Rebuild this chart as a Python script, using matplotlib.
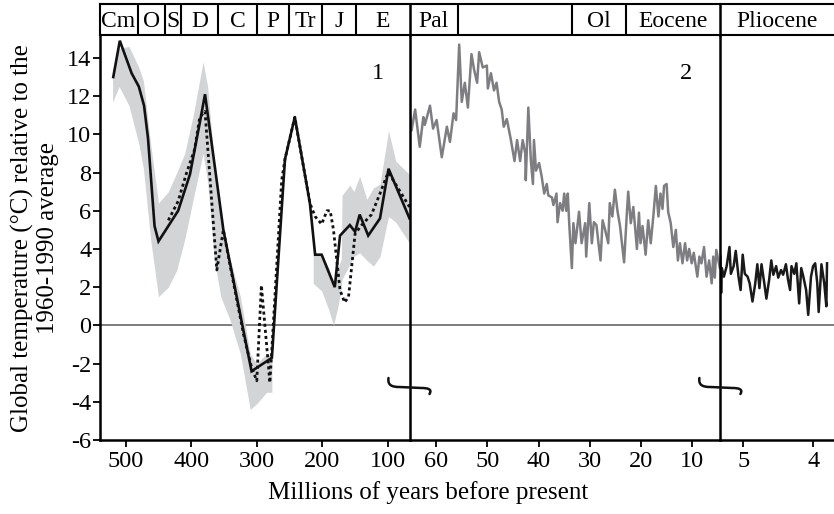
import matplotlib
matplotlib.use('Agg')
import matplotlib.pyplot as plt
from matplotlib.path import Path
from matplotlib.patches import PathPatch

plt.rcParams['font.family'] = ['Liberation Serif', 'DejaVu Serif']
plt.rcParams['axes.unicode_minus'] = False

# ---------------- data ----------------
# Panel 1 (Phanerozoic, Myr)
p1_solid_age = [519, 509, 491, 480, 472, 466, 461, 456, 450, 420, 402, 387, 379, 351,
                308, 277, 257, 242, 219, 211, 201, 181, 173, 158, 150, 143, 130,
                112, 99, 67]
p1_solid_temp = [13.0, 14.9, 13.2, 12.5, 11.5, 9.8, 7.5, 5.2, 4.4, 6.0, 7.9, 10.6, 12.1,
                 5.0, -2.4, -1.7, 8.7, 10.9, 6.4, 3.7, 3.7, 2.0, 4.7, 5.25, 4.9,
                 5.8, 4.7, 5.6, 8.2, 5.6]

p1_dot_age = [435, 420, 407, 395, 387, 379, 361, 351, 340, 320, 308, 300, 293, 280,
              262, 257, 242, 219, 211, 201, 193, 188, 183, 173, 166, 160, 150, 140,
              125, 112, 102, 99, 67]
p1_dot_temp = [5.5, 6.5, 8.0, 9.2, 10.9, 11.2, 2.9, 5.0, 3.0, -0.5, -2.2, -2.9, 2.1,
               -3.0, 7.6, 8.7, 10.9, 6.4, 5.7, 5.3, 6.0, 6.0, 5.0, 1.85, 1.2, 1.5,
               4.8, 5.25, 5.8, 6.9, 7.8, 8.0, 6.2]

band1_age = [520, 510, 495, 480, 473, 462, 450, 435, 422, 410, 397, 382, 375, 365,
             355, 341, 325, 310, 300, 285, 277]
band1_low = [11.7, 12.5, 11.5, 9.5, 8.2, 4.5, 1.5, 2.0, 2.9, 4.5, 6.6, 9.0, 7.5, 3.5,
             1.5, 0.3, -1.5, -4.4, -4.1, -3.5, -3.5]
band1_high = [13.3, 14.5, 14.6, 13.5, 12.8, 9.5, 6.4, 7.0, 8.0, 9.0, 11.0, 13.8, 12.5,
              8.5, 5.5, 3.5, 1.5, -1.5, -2.0, -1.5, -1.6]

band2_age = [214, 201, 190, 183, 176, 171, 170, 158, 152, 143, 132, 122, 112, 99, 88, 67]
band2_low = [2.2, 1.8, 0.8, 0.0, 1.0, 2.0, 2.4, 3.2, 3.6, 3.8, 3.4, 3.1, 3.6, 5.7, 5.4, 4.3]
band2_high = [3.8, 3.7, 3.0, 2.2, 3.0, 3.5, 6.8, 7.35, 7.0, 7.8, 6.6, 7.2, 7.4, 10.2, 8.6, 7.9]

# Panel 2 (Cenozoic, Myr)
p2_age = [65.2, 64.8, 64.1, 63.2, 62.5, 62.2, 61.2, 60.6, 59.9, 58.9, 57.9, 57.3, 56.6,
          56.1, 55.5, 55.0, 54.4, 53.8, 53.1, 52.6, 52.0, 51.6, 50.9, 50.1, 49.9, 49.3,
          48.7, 48.2, 47.7, 47.2, 46.8, 46.2, 45.4, 44.7, 44.2, 43.6, 43.1, 42.6, 42.5,
          42.0, 41.5, 41.1, 40.9, 40.5, 39.9, 39.4, 38.9, 38.4, 38.1, 37.4, 37.1, 36.5,
          36.3, 35.8, 35.3, 35.0, 34.6, 34.3, 34.0, 33.5, 33.2, 32.8, 32.1, 31.6, 30.9,
          30.7, 30.1, 29.6, 29.2, 28.7, 28.3, 27.9, 27.5, 27.0, 26.4, 26.1, 25.6, 25.1,
          24.6, 24.1, 23.3, 22.8, 22.5, 22.0, 21.5, 20.8, 20.4, 20.1, 19.7, 19.1, 18.6,
          18.1, 17.6, 17.1, 16.6, 16.2, 15.8, 15.5, 15.0, 14.7, 14.2, 13.7, 13.2, 12.8,
          12.4, 11.9, 11.4, 11.0, 10.6, 10.1, 9.7, 9.0, 8.6, 8.2, 7.7, 7.2, 6.7, 6.2,
          5.9, 5.6, 5.3, 4.6]
p2_temp = [11.3, 10.2, 11.3, 9.35, 10.9, 10.5, 11.5, 10.3, 10.75, 8.8, 10.4, 9.6, 11.1,
           10.75, 14.7, 11.7, 12.7, 11.4, 14.2, 13.4, 12.7, 14.3, 13.5, 13.6, 12.4, 13.2,
           12.3, 12.7, 11.7, 11.3, 10.4, 10.8, 9.7, 8.6, 9.7, 8.6, 9.7, 9.0, 7.6,
           11.4, 8.6, 7.4, 9.7, 8.1, 8.5, 7.8, 6.9, 7.4, 6.8, 6.7, 6.3, 6.9,
           5.4, 6.4, 6.0, 6.9, 6.0, 6.9, 5.25, 3.0, 5.35, 4.3, 5.95, 4.3, 5.35,
           3.6, 6.4, 4.3, 5.4, 5.25, 4.3, 3.4, 5.5, 5.0, 4.3, 6.4, 5.7, 7.1,
           6.0, 5.2, 3.3, 5.7, 7.0, 5.35, 6.2, 4.0, 5.9, 4.3, 5.2, 3.7, 5.5,
           4.3, 5.7, 7.3, 5.7, 6.9, 6.1, 7.3, 7.4, 5.95, 5.35, 4.1, 5.0, 3.4,
           4.3, 3.25, 4.3, 3.4, 4.0, 3.25, 3.8, 2.55, 3.6, 3.25, 4.1, 2.55, 3.4, 2.2,
           3.6, 2.5, 3.95, 3.0]

# Panel 3 (Pliocene, Myr)
p3_age = [5.33, 5.32, 5.31, 5.28, 5.24, 5.20, 5.18, 5.14, 5.11, 5.07, 5.04, 5.01, 4.98,
          4.94, 4.91, 4.87, 4.83, 4.80, 4.77, 4.74, 4.70, 4.67, 4.63, 4.60, 4.57, 4.53,
          4.50, 4.46, 4.43, 4.39, 4.36, 4.33, 4.31, 4.27, 4.24, 4.20, 4.17, 4.14, 4.10,
          4.07, 4.03, 4.00, 3.97, 3.94, 3.92, 3.88, 3.84, 3.81, 3.80]
p3_temp = [3.6, 1.7, 3.0, 2.55, 3.1, 4.1, 2.7, 3.1, 3.9, 2.55, 1.85, 3.7, 2.7,
           2.55, 2.2, 1.25, 2.2, 3.2, 1.95, 3.2, 2.2, 1.4, 2.4, 3.4, 2.65, 3.1,
           2.5, 2.9, 2.65, 3.2, 2.4, 1.85, 3.1, 2.7, 3.25, 1.15, 3.0, 2.55, 1.85,
           0.55, 2.55, 3.1, 3.25, 2.2, 0.7, 3.2, 2.2, 1.0, 3.25]

# Period strips
strip1_edges = [540, 482, 440, 415, 359, 300, 251, 201, 148, 67]
strip1_labels = ['Cm', 'O', 'S', 'D', 'C', 'P', 'Tr', 'J', 'E']
strip2_edges = [65.2, 55.7, 33.4, 23.0, 4.5]
strip2_labels = ['Pal', '', 'Ol', 'Eocene']
strip3_edges = [5.33, 3.70]
strip3_labels = ['Pliocene']

p1_ticks = [500, 400, 300, 200, 100]
p2_ticks = [60, 50, 40, 30, 20, 10]
p3_ticks = [5, 4]
y_ticks = [14, 12, 10, 8, 6, 4, 2, 0, -2, -4, -6]

# ---------------- layout ----------------
W, H = 834, 514
fig = plt.figure(figsize=(W / 100, H / 100), dpi=100)

def fbox(x0, x1, y0, y1):
    return [x0 / W, 1 - y1 / H, (x1 - x0) / W, (y1 - y0) / H]

ax_top, ax_bot = 35, 440
ax1 = fig.add_axes(fbox(99.5, 409.5, ax_top, ax_bot))
ax2 = fig.add_axes(fbox(409.5, 720.4, ax_top, ax_bot))
ax3 = fig.add_axes(fbox(720.4, 834, ax_top, ax_bot))
s1 = fig.add_axes(fbox(99.5, 409.5, 4, ax_top))
s2 = fig.add_axes(fbox(409.5, 720.4, 4, ax_top))
s3 = fig.add_axes(fbox(720.4, 834, 4, ax_top))

ylim = (-6, 15.2)
FS = 17.5
band_col = '#d3d4d6'
spine_lw = 1.8

# Panel 1
ax1.fill_between(band1_age, band1_low, band1_high, color=band_col, lw=0)
ax1.fill_between(band2_age, band2_low, band2_high, color=band_col, lw=0)
ax1.plot(p1_dot_age, p1_dot_temp, color='#111111', lw=2.0,
         linestyle=(0, (1.1, 1.1)), dash_capstyle='butt')
ax1.plot(p1_solid_age, p1_solid_temp, color='#111111', lw=1.9, solid_joinstyle='miter')
ax1.set_xlim(540, 67)
ax1.set_xticks(p1_ticks)
ax1.set_yticks(y_ticks)
ax1.text(0.898, 0.905, '1', transform=ax1.transAxes, fontsize=FS, ha='center', va='center')

# Panel 2
ax2.plot(p2_age, p2_temp, color='#7e7e82', lw=1.8)
ax2.set_xlim(65.2, 4.5)
ax2.set_xticks(p2_ticks)
ax2.text(0.889, 0.905, '2', transform=ax2.transAxes, fontsize=FS, ha='center', va='center')

# Panel 3
ax3.plot(p3_age, p3_temp, color='#1a1a1a', lw=1.8)
ax3.set_xlim(5.33, 3.70)
ax3.set_xticks(p3_ticks)

for ax in (ax1, ax2, ax3):
    ax.set_ylim(*ylim)
    ax.axhline(0, color='#5a5a5a', lw=1.1, zorder=0.5)
    ax.spines['top'].set_visible(False)
    ax.spines['right'].set_visible(False)
    ax.spines['left'].set_linewidth(spine_lw)
    ax.spines['bottom'].set_linewidth(spine_lw)
    ax.tick_params(axis='x', direction='out', length=5, width=1.3, labelsize=FS, pad=3)
    ax.patch.set_alpha(0)
for ax in (ax2, ax3):
    ax.set_yticks([])
    ax.spines['left'].set_zorder(5)
ax1.tick_params(axis='y', direction='out', length=5, width=1.3, labelsize=FS, pad=1)

# Strips
def draw_strip(s, edges, labels, xlim, left=True):
    s.set_xlim(*xlim)
    s.set_ylim(0, 1)
    s.set_xticks([])
    s.set_yticks([])
    for k in ('top', 'bottom', 'left', 'right'):
        s.spines[k].set_linewidth(1.5)
    s.spines['right'].set_visible(False)
    s.spines['left'].set_visible(left)
    for e in edges[1:-1]:
        s.axvline(e, color='black', lw=1.5)
    for i, lab in enumerate(labels):
        c = (edges[i] + edges[i + 1]) / 2
        s.text(c, 0.45, lab, ha='center', va='center', fontsize=FS - 0.5)

draw_strip(s1, strip1_edges, strip1_labels, (540, 67))
draw_strip(s2, strip2_edges, strip2_labels, (65.2, 4.5))
draw_strip(s3, strip3_edges, strip3_labels, (5.33, 3.70))
s2.spines['left'].set_linewidth(1.8)
s3.spines['left'].set_linewidth(1.8)

# Axis labels
fig.text(428 / W, 1 - 493 / H, 'Millions of years before present', ha='center',
         va='center', fontsize=FS + 0.5)
fig.text(35 / W, 1 - 238 / H, 'Global temperature (\u00b0C) relative to the\n1960-1990 average',
         ha='center', va='center', rotation=90, fontsize=FS + 0.5, linespacing=1.22,
         multialignment='center')

# Axis-break symbols
def brk(xc, yc=383):
    pts = [(xc - 21, yc - 5), (xc - 22, yc + 2), (xc - 18, yc + 4), (xc - 10, yc + 4),
           (xc + 12, yc + 5),
           (xc + 18, yc + 5), (xc + 23, yc + 6), (xc + 20, yc + 11)]
    codes = [Path.MOVETO, Path.CURVE4, Path.CURVE4, Path.CURVE4, Path.LINETO,
             Path.CURVE4, Path.CURVE4, Path.CURVE4]
    verts = [(x / W, 1 - y / H) for x, y in pts]
    fig.patches.append(PathPatch(Path(verts, codes), transform=fig.transFigure,
                                 fill=False, lw=1.8, color='#111111', capstyle='round'))

brk(409.5)
brk(720.4)

fig.savefig('out.png', dpi=100)
